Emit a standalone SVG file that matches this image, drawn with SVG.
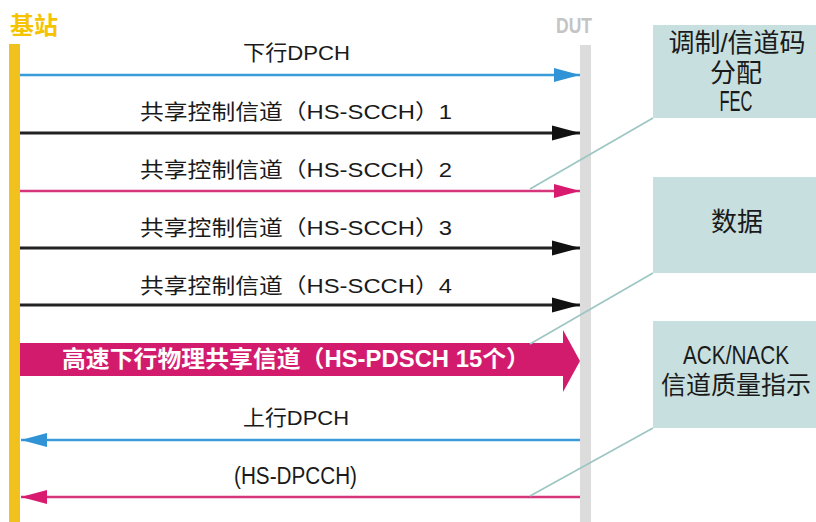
<svg xmlns="http://www.w3.org/2000/svg" width="816" height="522" viewBox="0 0 816 522">
<style>
.lbl{font-family:"Liberation Sans","Noto Sans CJK SC",sans-serif;font-size:21px;fill:#1a1a1a}
.box{fill:#c7dfde}
.btxt{font-family:"Liberation Sans","Noto Sans CJK SC",sans-serif;font-size:26px;fill:#1a1a1a;text-anchor:middle}
.blat{font-family:"Liberation Sans",sans-serif;font-size:28px;fill:#1a1a1a;text-anchor:middle}
.lead{stroke:#9cc6c2;stroke-width:1.6;fill:none}
</style>
<defs>
<marker id="mBlue" markerUnits="userSpaceOnUse" markerWidth="28" markerHeight="16" refX="26" refY="8" orient="auto"><path d="M0,1 L26,8 L0,15 Z" fill="#2f93d6"/></marker>
<marker id="mBlack" markerUnits="userSpaceOnUse" markerWidth="30" markerHeight="18" refX="28" refY="9" orient="auto"><path d="M0,1.5 L28,9 L0,16.5 Z" fill="#111"/></marker>
<marker id="mPink" markerUnits="userSpaceOnUse" markerWidth="28" markerHeight="16" refX="26" refY="8" orient="auto"><path d="M0,1 L26,8 L0,15 Z" fill="#d81b6e"/></marker>
</defs>
<rect width="816" height="522" fill="#ffffff"/>
<g id="base-station">
<rect x="9" y="44" width="11" height="478" fill="#f1c21d"/>
<text x="10" y="34" font-family="'Liberation Sans','Noto Sans CJK SC',sans-serif" font-size="24" font-weight="bold" fill="#f5c300">基站</text>
</g>
<g id="dut">
<rect x="580" y="45" width="11" height="477" fill="#dcdcdc"/>
<text x="556" y="33" font-family="'Liberation Sans',sans-serif" font-size="22" font-weight="bold" fill="#c4c4c4" textLength="36" lengthAdjust="spacingAndGlyphs">DUT</text>
</g>
<g id="box-fec">
<rect class="box" x="653" y="25" width="163" height="93"/>
<text class="btxt" x="737" y="52">调制/信道码</text>
<text class="btxt" x="736" y="82">分配</text>
<text class="blat" x="736" y="111" style="font-size:29px" textLength="33" lengthAdjust="spacingAndGlyphs">FEC</text>
</g>
<g id="box-data">
<rect class="box" x="653" y="177" width="163" height="96"/>
<text class="btxt" x="737" y="231">数据</text>
</g>
<g id="box-ack">
<rect class="box" x="653" y="321" width="163" height="107"/>
<text class="blat" x="736" y="364" style="font-size:26px" textLength="106" lengthAdjust="spacingAndGlyphs">ACK/NACK</text>
<text class="btxt" x="736" y="394" style="font-size:25px">信道质量指示</text>
</g>
<g id="connectors">
<line x1="20" y1="75" x2="580" y2="75" stroke="#3a9bd9" stroke-width="2.5" marker-end="url(#mBlue)"/>
<line x1="20" y1="133" x2="580" y2="133" stroke="#222" stroke-width="3" marker-end="url(#mBlack)"/>
<line x1="20" y1="191" x2="580" y2="191" stroke="#d6357c" stroke-width="2.5" marker-end="url(#mPink)"/>
<line x1="20" y1="248" x2="580" y2="248" stroke="#222" stroke-width="3" marker-end="url(#mBlack)"/>
<line x1="20" y1="305" x2="580" y2="305" stroke="#222" stroke-width="3" marker-end="url(#mBlack)"/>
<path d="M20,343 L563,343 L563,330 L580,361 L563,392 L563,376 L20,376 Z" fill="#d31b6e"/>
<line x1="580" y1="440" x2="21" y2="440" stroke="#3a9bd9" stroke-width="2.5" marker-end="url(#mBlue)"/>
<line x1="580" y1="497" x2="21" y2="497" stroke="#d6357c" stroke-width="2.5" marker-end="url(#mPink)"/>
<line class="lead" x1="653" y1="118" x2="530" y2="189"/>
<line class="lead" x1="653" y1="273" x2="530" y2="344"/>
<line class="lead" x1="653" y1="428" x2="530" y2="496"/>
</g>
<g id="labels">
<text class="lbl" x="243" y="60" textLength="107" lengthAdjust="spacingAndGlyphs">下行DPCH</text>
<text class="lbl" x="140" y="119" textLength="312" lengthAdjust="spacingAndGlyphs">共享控制信道（HS-SCCH）1</text>
<text class="lbl" x="140" y="177" textLength="312" lengthAdjust="spacingAndGlyphs">共享控制信道（HS-SCCH）2</text>
<text class="lbl" x="140" y="235" textLength="312" lengthAdjust="spacingAndGlyphs">共享控制信道（HS-SCCH）3</text>
<text class="lbl" x="140" y="293" textLength="312" lengthAdjust="spacingAndGlyphs">共享控制信道（HS-SCCH）4</text>
<text x="62" y="367" font-family="'Liberation Sans','Noto Sans CJK SC',sans-serif" font-size="23" font-weight="bold" fill="#ffffff" textLength="468" lengthAdjust="spacingAndGlyphs">高速下行物理共享信道（HS-PDSCH 15个）</text>
<text class="lbl" x="243" y="425" textLength="106" lengthAdjust="spacingAndGlyphs">上行DPCH</text>
<text class="lbl" x="234" y="484" style="font-size:23px" textLength="123" lengthAdjust="spacingAndGlyphs">(HS-DPCCH)</text>
</g>
</svg>
